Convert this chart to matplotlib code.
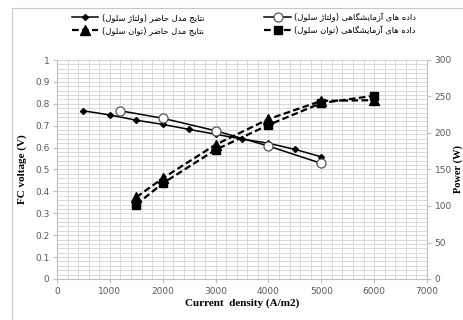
import matplotlib
matplotlib.use("Agg")
import matplotlib.pyplot as plt
from matplotlib.lines import Line2D
from matplotlib.ticker import MultipleLocator

# model results (voltage) vs current density
model_j = [500, 1000, 1500, 2000, 2500, 3000, 3500, 4000, 4500, 5000]
model_v = [0.768, 0.749, 0.725, 0.706, 0.683, 0.661, 0.639, 0.62, 0.592, 0.558]

# experimental voltage
exp_vj = [1200, 2000, 3000, 4000, 5000]
exp_v = [0.768, 0.734, 0.677, 0.607, 0.528]

# power (W)
pow_j = [1500, 2000, 3000, 4000, 5000, 6000]
model_p = [112, 138, 184, 219, 244, 245]
exp_p = [102, 131, 177, 211, 241, 251]

lbl_model_v = "نتایج مدل حاضر (ولتاژ سلول)"
lbl_model_p = "نتایج مدل حاضر (توان سلول)"
lbl_exp_v = "داده های آزمایشگاهی (ولتاژ سلول)"
lbl_exp_p = "داده های آزمایشگاهی (توان سلول)"

# contextual forms: isolated, final, initial, medial
FORMS = {
    'ا': ('\uFE8D', '\uFE8E', None, None),
    'آ': ('\uFE81', '\uFE82', None, None),
    'ب': ('\uFE8F', '\uFE90', '\uFE91', '\uFE92'),
    'ت': ('\uFE95', '\uFE96', '\uFE97', '\uFE98'),
    'ج': ('\uFE9D', '\uFE9E', '\uFE9F', '\uFEA0'),
    'ح': ('\uFEA1', '\uFEA2', '\uFEA3', '\uFEA4'),
    'د': ('\uFEA9', '\uFEAA', None, None),
    'ر': ('\uFEAD', '\uFEAE', None, None),
    'ز': ('\uFEAF', '\uFEB0', None, None),
    'ژ': ('\uFB8A', '\uFB8B', None, None),
    'س': ('\uFEB1', '\uFEB2', '\uFEB3', '\uFEB4'),
    'ش': ('\uFEB5', '\uFEB6', '\uFEB7', '\uFEB8'),
    'ض': ('\uFEBD', '\uFEBE', '\uFEBF', '\uFEC0'),
    'ل': ('\uFEDD', '\uFEDE', '\uFEDF', '\uFEE0'),
    'م': ('\uFEE1', '\uFEE2', '\uFEE3', '\uFEE4'),
    'ن': ('\uFEE5', '\uFEE6', '\uFEE7', '\uFEE8'),
    'ه': ('\uFEE9', '\uFEEA', '\uFEEB', '\uFEEC'),
    'و': ('\uFEED', '\uFEEE', None, None),
    'ی': ('\uFBFC', '\uFBFD', '\uFBFE', '\uFBFF'),
    'گ': ('\uFB92', '\uFB93', '\uFB94', '\uFB95'),
}


def shape_rtl(s):
    out = []
    for i, c in enumerate(s):
        if c not in FORMS:
            out.append(c)
            continue
        prev = s[i - 1] if i > 0 else ''
        nxt = s[i + 1] if i + 1 < len(s) else ''
        jp = prev in FORMS and FORMS[prev][2] is not None
        jn = nxt in FORMS and FORMS[c][2] is not None
        iso, fin, ini, med = FORMS[c]
        if jp and jn:
            out.append(med)
        elif jp:
            out.append(fin)
        elif jn:
            out.append(ini)
        else:
            out.append(iso)
    vis = ''.join(reversed(out))
    return vis.translate(str.maketrans('()', ')('))


fig = plt.figure(figsize=(4.64, 3.2), dpi=100)
ax = fig.add_axes([57 / 464, 1 - 279 / 320, 370 / 464, 219 / 320])
ax2 = ax.twinx()

tick_col = '#595959'
ax.set_xlim(0, 7000)
ax.set_ylim(0, 1)
ax2.set_ylim(0, 300)
ax.xaxis.set_major_locator(MultipleLocator(1000))
ax.xaxis.set_minor_locator(MultipleLocator(200))
ax.yaxis.set_major_locator(MultipleLocator(0.1))
ax.yaxis.set_minor_locator(MultipleLocator(0.02))
ax2.yaxis.set_major_locator(MultipleLocator(50))
ax.grid(which='both', color='#d9d9d9', lw=0.7)
ax.set_axisbelow(True)

for a in (ax, ax2):
    for sp in a.spines.values():
        sp.set_visible(False)
    a.tick_params(which='major', length=3, color='#bfbfbf', labelcolor=tick_col,
                  labelsize=6.5, pad=2.5)
    a.tick_params(which='minor', length=0)
for side in ('left', 'bottom'):
    ax.spines[side].set_visible(True)
    ax.spines[side].set_color('#bfbfbf')
ax2.spines['right'].set_visible(True)
ax2.spines['right'].set_color('#bfbfbf')

ax.set_yticklabels(['0' if t == 0 else ('1' if t == 1 else f'{t:.1f}')
                    for t in ax.get_yticks()])

ln1, = ax.plot(model_j, model_v, '-', color='black', lw=1.1, marker='D', ms=3,
               label=shape_rtl(lbl_model_v))
ln3, = ax.plot(exp_vj, exp_v, '-', color='black', lw=1.1, marker='o', ms=6.5,
               mfc='white', mec='#555555', mew=0.9, label=shape_rtl(lbl_exp_v))
ln2, = ax2.plot(pow_j, model_p, '--', color='black', lw=1.6, marker='^', ms=6.5,
                dashes=(3, 1.5), label=shape_rtl(lbl_model_p))
ln4, = ax2.plot(pow_j, exp_p, '--', color='black', lw=1.6, marker='s', ms=5.5,
                dashes=(3, 1.5), label=shape_rtl(lbl_exp_p))

serif = 'Liberation Serif'
ax.set_xlabel('Current  density (A/m2)', family=serif, weight='bold', fontsize=8,
              labelpad=2)
ax.set_ylabel('FC voltage (V)', family=serif, weight='bold', fontsize=8, labelpad=6)
ax2.set_ylabel('Power (W)', family=serif, weight='bold', fontsize=7.5, labelpad=1)

fig.legend(handles=[ln1, ln2, ln3, ln4], ncol=2, frameon=False,
           loc='center', bbox_to_anchor=(244 / 464, 1 - 24 / 320),
           prop={'family': 'DejaVu Sans', 'size': 6}, handlelength=3.2,
           columnspacing=7.2, handletextpad=0.4, labelspacing=0.5)

# chart frame (left and top edges)
fx, fy = 12.5 / 464, 1 - 7.5 / 320
fig.add_artist(Line2D([fx, fx, 1.0], [0.0, fy, fy], transform=fig.transFigure,
                      color='#c8c8c8', lw=0.8))

fig.savefig('out.png', dpi=100)
